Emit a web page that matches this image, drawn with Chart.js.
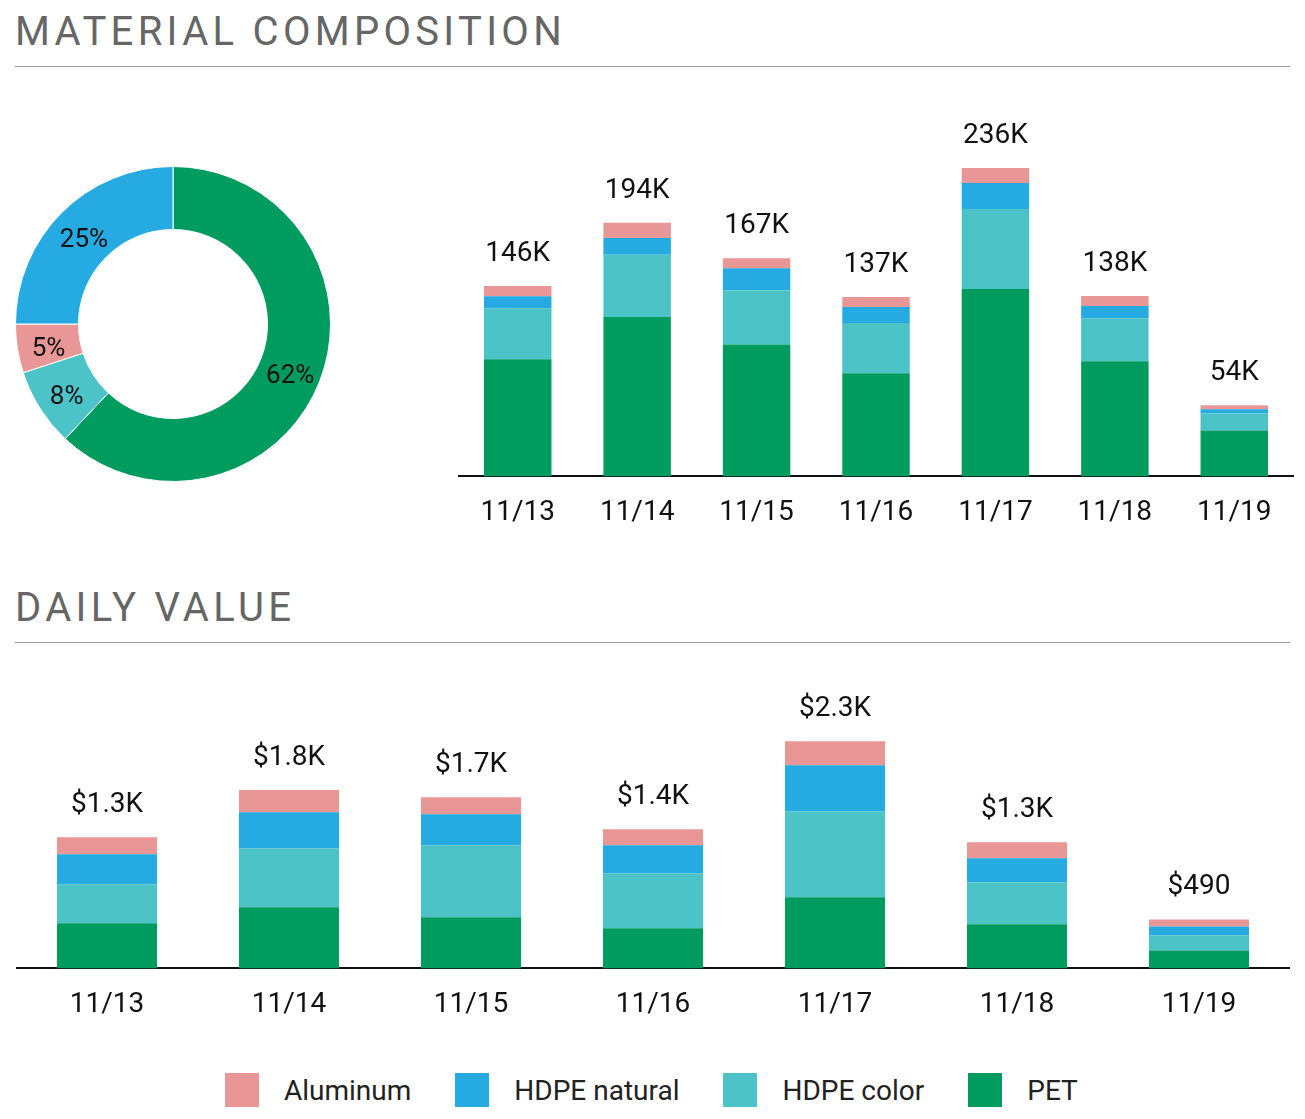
<!DOCTYPE html>
<html><head><meta charset="utf-8">
<script src="https://cdn.jsdelivr.net/npm/chart.js@4.4.0/dist/chart.umd.min.js"></script>
<style>
body{margin:0;background:#fff;width:1305px;height:1119px;position:relative;font-family:Roboto,sans-serif;overflow:hidden}
.t{position:absolute;left:15px;font-size:40px;letter-spacing:4.3px;color:#666;font-weight:400}
.hr{position:absolute;left:15px;width:1275px;height:1px;background:#999}
.box{position:absolute}
#leg{position:absolute;top:1073px;left:225px;display:flex;font-size:28px;color:#222;align-items:center}
#leg span.s{display:inline-block;width:34px;height:34px;margin-right:25px}
#leg div{display:flex;align-items:center;margin-right:44px}
</style></head><body>
<div class="t" style="top:8px">MATERIAL COMPOSITION</div><div class="hr" style="top:66px"></div>
<div class="t" style="top:584px">DAILY VALUE</div><div class="hr" style="top:642px"></div>
<div class="box" style="left:15px;top:166px;width:316px;height:316px"><canvas id="d"></canvas></div>
<div class="box" style="left:458px;top:100px;width:836px;height:450px"><canvas id="b1"></canvas></div>
<div class="box" style="left:16px;top:680px;width:1274px;height:362px"><canvas id="b2"></canvas></div>
<div id="leg"></div>
<script>
const materials=["Aluminum","HDPE natural","HDPE color","PET"];
const colors=["#E89696","#25AAE1","#4CC3C7","#009B5E"];
const days=["11/13","11/14","11/15","11/16","11/17","11/18","11/19"];
const shareLabels=["PET","HDPE color","Aluminum","HDPE natural"];
const shareValues=[62,8,5,25];
const shareColors=["#009B5E","#4CC3C7","#E89696","#25AAE1"];
// weight (K)
const wAluminum=[7.7,11.5,7.7,7.7,11.5,7.7,3.1];
const wHdpeNat=[9.2,13,16.9,12.3,19.9,9.2,3.1];
const wHdpeCol=[39,47.5,41.4,38.3,61.3,33,13];
const wPet=[89.7,122,101,79,143.3,88.1,35.2];
const wTotals=["146K","194K","167K","137K","236K","138K","54K"];
// value ($)
const vAluminum=[172,223,172,162,243,162,71];
const vHdpeNat=[304,365,314,284,466,243,91];
const vHdpeCol=[395,598,729,557,871,425,152];
const vPet=[456,618,517,405,719,446,182];
const vTotals=["$1.3K","$1.8K","$1.7K","$1.4K","$2.3K","$1.3K","$490"];

Chart.defaults.font.family="Roboto";
Chart.defaults.animation=false;
document.getElementById('leg').innerHTML=materials.map((m,i)=>`<div><span class="s" style="background:${colors[i]}"></span>${m}</div>`).join('');

function totalsPlugin(labels){return{id:'tot',afterDatasetsDraw(c){const ctx=c.ctx;const top=c.getDatasetMeta(c.data.datasets.length-1);ctx.save();ctx.font='28px Roboto';ctx.fillStyle='#111';ctx.textAlign='center';ctx.textBaseline='middle';top.data.forEach((b,i)=>{ctx.fillText(labels[i],b.x,b.y-32);});ctx.restore();}}}
function bar(id,sets,max,labels,bp){
 // sets in legend order (Aluminum..PET); stack bottom-up from PET
 const order=[3,2,1,0];
 new Chart(document.getElementById(id),{type:'bar',
 data:{labels:days,datasets:order.map(i=>({label:materials[i],data:sets[i],backgroundColor:colors[i],barPercentage:bp,categoryPercentage:1}))},
 options:{responsive:true,maintainAspectRatio:false,plugins:{legend:{display:false},tooltip:{enabled:false}},
 layout:{padding:0},
 scales:{x:{stacked:true,grid:{display:false,drawTicks:false},border:{color:'#111',width:2},ticks:{padding:20,color:'#111',font:{size:28}}},
 y:{stacked:true,display:false,min:0,max:max}}},plugins:[totalsPlugin(labels)]});
}
bar('b1',[wAluminum,wHdpeNat,wHdpeCol,wPet],288,wTotals,0.565);
bar('b2',[vAluminum,vHdpeNat,vHdpeCol,vPet],2918,vTotals,0.55);
new Chart(document.getElementById('d'),{type:'doughnut',
 data:{labels:shareLabels,datasets:[{data:shareValues,backgroundColor:shareColors,borderWidth:1,borderColor:'#fff'}]},
 options:{responsive:true,maintainAspectRatio:false,cutout:'60%',plugins:{legend:{display:false},tooltip:{enabled:false}}},
 plugins:[{id:'pl',afterDatasetsDraw(c){const ctx=c.ctx;ctx.save();ctx.font='26px Roboto';ctx.fillStyle='#111';ctx.textAlign='center';ctx.textBaseline='middle';
 c.getDatasetMeta(0).data.forEach((a,i)=>{const p=a.tooltipPosition();ctx.fillText(shareValues[i]+'%',p.x,p.y+6);});ctx.restore();}}]});
</script>
</body></html>
